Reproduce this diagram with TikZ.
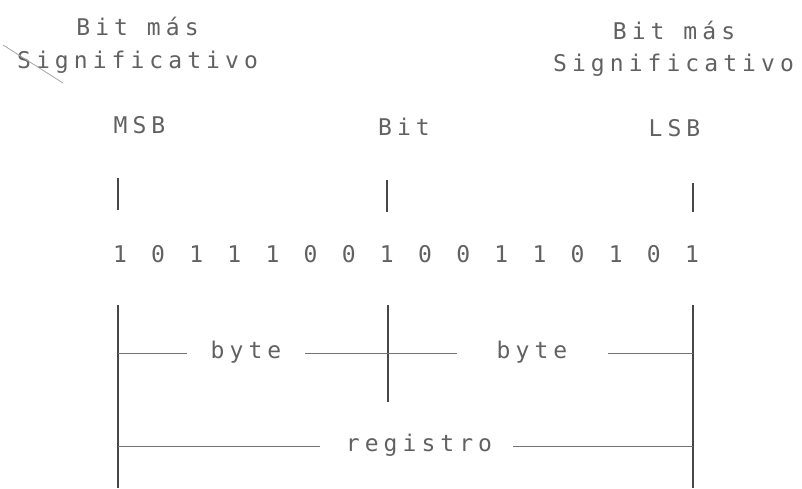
\documentclass[tikz,border=0pt]{standalone}
\usepackage{fontspec}
\newfontfamily\dotfont[LetterSpace=22,RawFeature=+zero]{DejaVu Sans Mono}
\begin{document}
\begin{tikzpicture}[x=1pt,y=-1pt,
  lbl/.style={font=\dotfont\fontsize{23}{27}\selectfont, text=black!62, inner sep=0pt, anchor=base},
  vline/.style={draw=black!72, line width=1.3pt},
  hline/.style={draw=black!55, line width=1pt},
  tick/.style={draw=black!72, line width=1.3pt}]
\useasboundingbox (0,0) rectangle (802,488);
% top labels
\node[lbl] (lbit) at (137.5,35) {Bit más};
\node[lbl] (lsig) at (137.5,68) {Significativo};
\node[lbl] (rbit) at (674,39) {Bit más};
\node[lbl] (rsig) at (673.5,71) {Significativo};
\coordinate (d1) at (3,45);
\coordinate (d2) at (63,83);
\draw[draw=black!35, line width=0.8pt] (d1) -- (d2);
% position labels
\node[lbl] (msb) at (139.5,133) {MSB};
\node[lbl] (bit) at (404,135) {Bit};
\node[lbl] (lsb) at (674.5,136) {LSB};
% ticks
\coordinate (t1a) at (118,178); \coordinate (t1b) at (118,210);
\coordinate (t2a) at (387,180); \coordinate (t2b) at (387,212);
\coordinate (t3a) at (693,183); \coordinate (t3b) at (693,212);
\draw[tick] (t1a) -- (t1b);
\draw[tick] (t2a) -- (t2b);
\draw[tick] (t3a) -- (t3b);
% bits
\foreach \d [count=\i from 0] in {1,0,1,1,1,0,0,1,0,0,1,1,0,1,0,1}
  \node[lbl] (bit\i) at ({120+\i*38.13},262) {\d};
% bottom frame
\coordinate (La) at (118,305); \coordinate (Lb) at (118,488);
\coordinate (Ma) at (388,305); \coordinate (Mb) at (388,402);
\coordinate (Ra) at (693,305); \coordinate (Rb) at (693,488);
\draw[vline] (La) -- (Lb);
\draw[vline] (Ma) -- (Mb);
\draw[vline] (Ra) -- (Rb);
% byte row
\node[lbl] (byte1) at (246,358) {byte};
\node[lbl] (byte2) at (532,358) {byte};
\coordinate (b1) at (118,353); \coordinate (b2) at (187,353);
\coordinate (b3) at (305,353); \coordinate (b4) at (457,353);
\coordinate (b5) at (608,353); \coordinate (b6) at (693,353);
\draw[hline] (b1) -- (b2);
\draw[hline] (b3) -- (b4);
\draw[hline] (b5) -- (b6);
% registro row
\node[lbl] (reg) at (419,451) {registro};
\coordinate (r1) at (118,446); \coordinate (r2) at (320,446);
\coordinate (r3) at (513,446); \coordinate (r4) at (693,446);
\draw[hline] (r1) -- (r2);
\draw[hline] (r3) -- (r4);
\end{tikzpicture}
\end{document}
